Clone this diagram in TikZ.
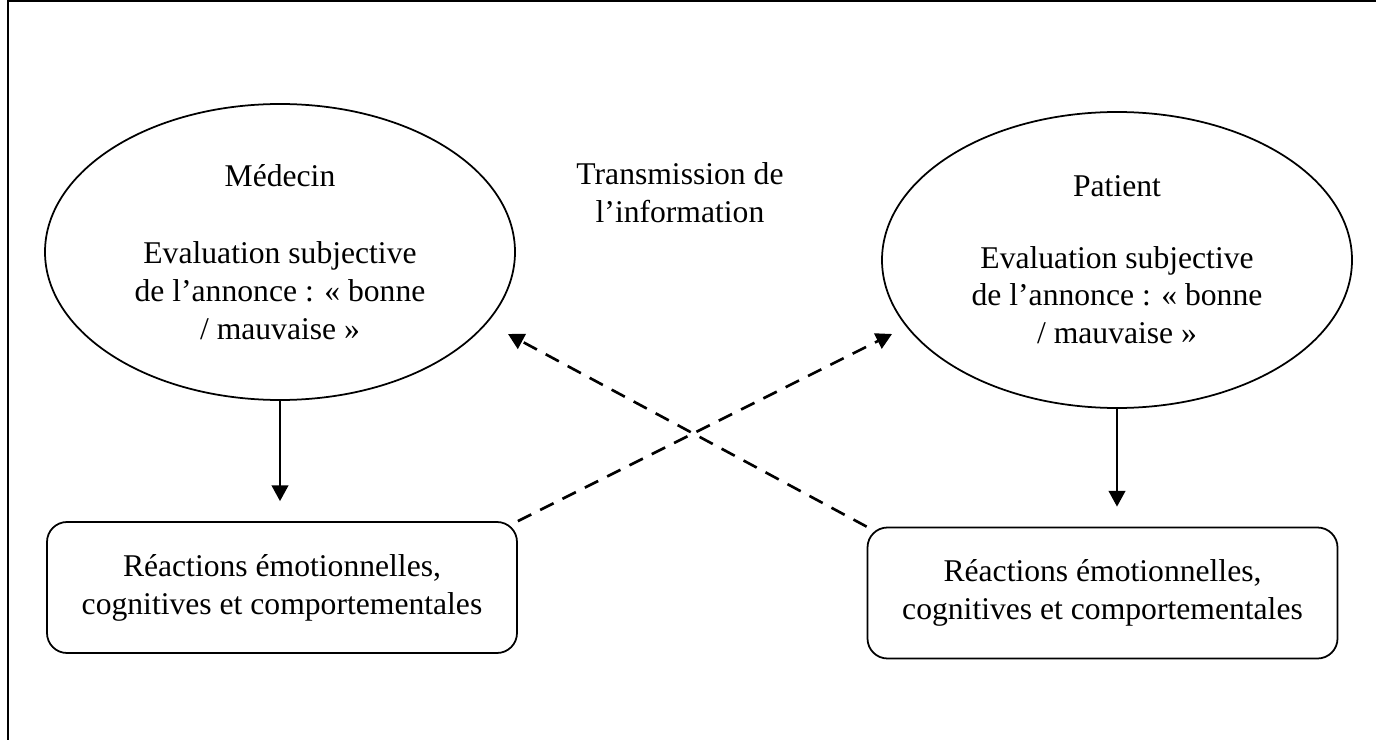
\documentclass[tikz,border=0pt]{standalone}
\usepackage{fontspec}
\setmainfont{Liberation Serif}
\usepackage{xcolor}
\usepackage{tikz}
\usetikzlibrary{shapes.geometric,arrows.meta}

\begin{document}
\begin{tikzpicture}[line width=1pt, font=\fontsize{18}{21.6}\selectfont,
    oval/.style = {draw, ellipse, minimum width=9.4cm, minimum height=5.92cm, align=center, inner sep=0pt},
    reac/.style = {draw, rounded corners=0.4cm, minimum width=9.4cm, minimum height=2.62cm, align=center},
    fl/.style = {-{Triangle[width=9.5pt,length=9pt]}, line width=1.2pt},
    echange/.style = {fl, dash pattern=on 8.5pt off 5.7pt, line width=1.5pt}]
        \useasboundingbox (0,0) rectangle (27.52,14.8);
        \draw[line width=1.2pt] (27.52,14.78) -- (0.16,14.78) -- (0.16,0);
        \node[oval] (med) at (5.6,9.76) {M\'edecin\\[22pt] Evaluation subjective\\ de l’annonce : « bonne\\ / mauvaise »};
        \node[oval] (pat) at (22.34,9.6) {Patient\\[19pt] Evaluation subjective\\ de l’annonce : « bonne\\ / mauvaise »};
        \node (trans) at (13.6,10.94) [align=center] {Transmission de\\ l’information};
        \node[reac] (reacmed) at (5.64,3.05) {R\'eactions \'emotionnelles,\\ cognitives et comportementales};
        \node[reac] (reacpat) at (22.05,2.94) {R\'eactions \'emotionnelles,\\ cognitives et comportementales};
        \coordinate (versmed) at (10.16,8.12);
        \coordinate (verspat) at (17.84,8.12);
        \draw[fl, shorten >=0.4cm] (med.south) -- (med.south |- reacmed.north);
        \draw[fl, shorten >=0.4cm] (pat.south) -- (pat.south |- reacpat.north);
        \draw[echange] (reacmed.north east) -- (verspat);
        \draw[echange] (reacpat.north west) -- (versmed);
    \end{tikzpicture}
\end{document}
